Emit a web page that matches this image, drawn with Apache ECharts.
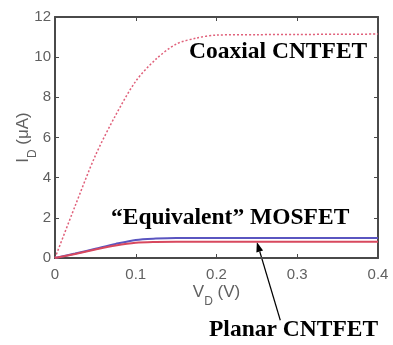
<!DOCTYPE html>
<html>
<head>
<meta charset="utf-8">
<script src="https://cdn.jsdelivr.net/npm/echarts@6/dist/echarts.min.js"></script>
<style>html,body{margin:0;padding:0;background:#fff;}#c{width:393px;height:345px;}</style>
</head>
<body>
<div id="c"></div>
<script>
// Data
const vd = [0, 0.025, 0.05, 0.075, 0.1, 0.125, 0.15, 0.175, 0.2, 0.25, 0.3, 0.35, 0.4];
const coaxial = [0, 2.6, 5.1, 7.1, 8.8, 9.9, 10.65, 10.95, 11.1, 11.12, 11.13, 11.14, 11.15];
const mosfet = [0, 0.22, 0.46, 0.7, 0.9, 0.97, 1.0, 1.0, 1.0, 1.0, 1.0, 1.0, 1.0];
const planar = [0, 0.2, 0.42, 0.62, 0.76, 0.8, 0.81, 0.81, 0.81, 0.81, 0.81, 0.81, 0.81];
const xTicks = [0, 0.1, 0.2, 0.3, 0.4];
const yTicks = [0, 2, 4, 6, 8, 10, 12];
const labels = { coax: 'Coaxial CNTFET', mos: '\u201cEquivalent\u201d MOSFET', planar: 'Planar CNTFET' };
const arrowFrom = [0.279, -3.1];
const arrowTo = [0.25, 0.8];

const pair = (xs, ys) => xs.map((x, i) => [x, ys[i]]);
const chart = echarts.init(document.getElementById('c'));
const axisCol = '#4a4a4a';
const txtCol = '#606060';
const ff = 'Liberation Sans, Arial';
const lblStyle = { color: txtCol, fontFamily: ff, fontSize: 15 };
const nameRich = { a: { fontSize: 17, color: txtCol, fontFamily: ff }, s: { fontSize: 12, color: txtCol, verticalAlign: 'bottom', padding: [0, 0, -7, 0], fontFamily: ff } };
const frameAxis = { axisLine: { onZero: false, lineStyle: { color: axisCol, width: 2 } },
  axisTick: { show: true, inside: true, length: 4, lineStyle: { color: axisCol } },
  axisLabel: { show: false }, splitLine: { show: false } };
chart.setOption({
  animation: false,
  grid: { left: 55, right: 15, top: 17, bottom: 87, containLabel: false, outerBoundsMode: 'none' },
  xAxis: [{
    type: 'value', min: xTicks[0], max: xTicks[xTicks.length - 1], interval: 0.1,
    axisLine: { onZero: false, lineStyle: { color: axisCol, width: 2 } },
    axisTick: { inside: true, length: 4, lineStyle: { color: axisCol } },
    axisLabel: Object.assign({ margin: 9 }, lblStyle),
    splitLine: { show: false },
    name: '{a|V}{s|D}{a| (V)}', nameLocation: 'middle', nameGap: 26, nameMoveOverlap: false,
    nameTextStyle: { rich: nameRich }
  }, Object.assign({ type: 'value', position: 'top', min: xTicks[0], max: xTicks[xTicks.length - 1], interval: 0.1 }, frameAxis)],
  yAxis: [{
    type: 'value', min: yTicks[0], max: yTicks[yTicks.length - 1], interval: 2,
    axisLine: { show: true, onZero: false, lineStyle: { color: axisCol, width: 2 } },
    axisTick: { show: true, inside: true, length: 4, lineStyle: { color: axisCol } },
    axisLabel: Object.assign({ margin: 4 }, lblStyle),
    splitLine: { show: false },
    name: '{a|I}{s|D}{a| (\u03bcA)}', nameLocation: 'middle', nameGap: 23, nameRotate: 90, nameMoveOverlap: false,
    nameTextStyle: { rich: nameRich }
  }, Object.assign({ type: 'value', position: 'right', min: yTicks[0], max: yTicks[yTicks.length - 1], interval: 2 }, frameAxis, { axisLine: { show: true, onZero: false, lineStyle: { color: axisCol, width: 2 } } })],
  series: [
    { type: 'line', data: pair(vd, coaxial), symbol: 'none', smooth: 0.3,
      lineStyle: { color: '#e0607a', width: 1.5, type: [2, 2] } },
    { type: 'line', data: pair(vd, mosfet), symbol: 'none', smooth: 0.3,
      lineStyle: { color: '#5a55c0', width: 2 } },
    { type: 'line', data: pair(vd, planar), symbol: 'none', smooth: 0.3,
      lineStyle: { color: '#d8485e', width: 2 } }
  ]
});
const p0 = chart.convertToPixel({ xAxisIndex: 0, yAxisIndex: 0 }, arrowFrom);
const p1 = chart.convertToPixel({ xAxisIndex: 0, yAxisIndex: 0 }, arrowTo);
const ang = Math.atan2(p1[1] - p0[1], p1[0] - p0[0]);
const hl = 10, hw = 3.5;
const bx = p1[0] - hl * Math.cos(ang), by = p1[1] - hl * Math.sin(ang);
const nx = -Math.sin(ang), ny = Math.cos(ang);
const tf = { fontFamily: 'Liberation Serif, Times New Roman', fontWeight: 'bold', fontSize: 23.5, fill: '#000' };
chart.setOption({
  graphic: [
    { type: 'line', shape: { x1: p0[0], y1: p0[1], x2: bx, y2: by }, style: { stroke: '#000', lineWidth: 1.2 } },
    { type: 'polygon', shape: { points: [[p1[0], p1[1]], [bx + nx * hw, by + ny * hw], [bx - nx * hw, by - ny * hw]] }, style: { fill: '#000' } },
    { type: 'text', left: 189, top: 40, style: Object.assign({ text: labels.coax }, tf) },
    { type: 'text', left: 111, top: 206, style: Object.assign({ text: labels.mos }, tf) },
    { type: 'text', left: 209, top: 318, style: Object.assign({ text: labels.planar }, tf) }
  ]
});
</script>
</body>
</html>
